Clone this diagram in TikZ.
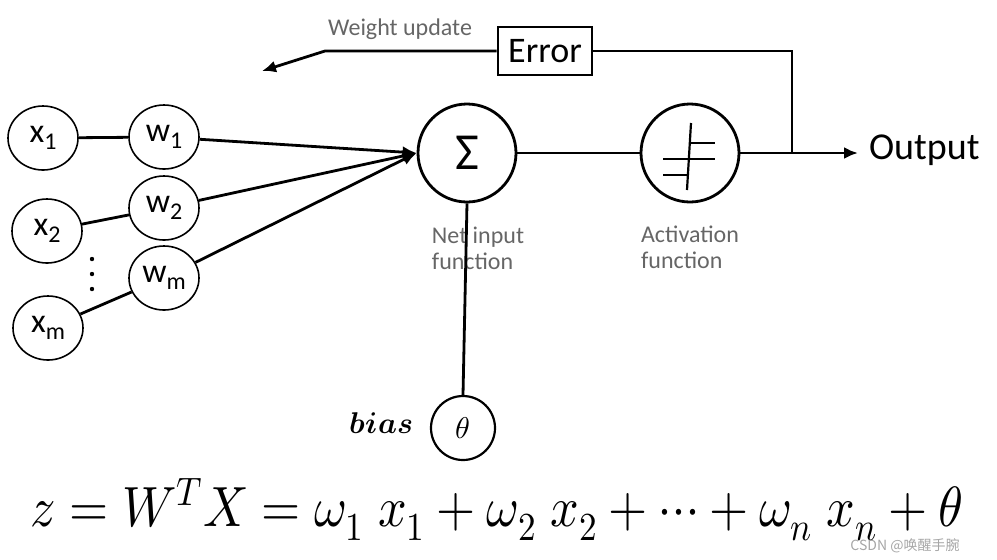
\documentclass[tikz,border=0pt]{standalone}
\usepackage{fontspec}
\usepackage{unicode-math}
\setmainfont{Carlito}
\setmathfont{Latin Modern Math}
\newfontfamily\cjkfont{Noto Sans CJK SC}
\usetikzlibrary{shapes.geometric,arrows.meta}
\newcommand{\lbl}[2]{#1\raisebox{-0.45ex}{\fontsize{12}{12}\selectfont #2}}
\tikzset{
  inp/.style={ellipse,draw,line width=0.8pt,minimum width=35pt,minimum height=32pt,inner sep=0pt,font=\fontsize{17}{17}\selectfont},
  unit/.style={circle,draw,line width=1.4pt,minimum size=49pt,inner sep=0pt},
  errbox/.style={rectangle,draw,line width=1.4pt,minimum width=47pt,minimum height=24pt,font=\fontsize{18}{18}\selectfont},
  note/.style={text=black!60,font=\fontsize{12}{13}\selectfont,align=left},
  link/.style={line width=1.4pt},
}
\begin{document}
\begin{tikzpicture}[x=0.5pt,y=-0.5pt,>={Latex[length=7pt,width=6pt]}]
\useasboundingbox (0,0) rectangle (997,559);
% inputs and weights
\node[inp] (x1) at (43,138){\lbl{x}{1}};
\node[inp] (x2) at (47,231){\lbl{x}{2}};
\node[inp] (xm) at (48,328){\lbl{x}{m}};
\node[inp] (w1) at (164,137){\lbl{w}{1}};
\node[inp] (w2) at (164,208){\lbl{w}{2}};
\node[inp] (wm) at (164,278){\lbl{w}{m}};
\foreach \y in {259,274,289}
  \fill (92,\y) circle (1.1pt);
\draw[link] (x1)--(w1);
\draw[link] (x2)--(w2);
\draw[link] (xm)--(wm);
% net input and activation
\node[unit] (sum) at (467,153){\fontsize{26}{26}\selectfont Σ};
\node[unit] (act) at (690,153){};
\draw[line width=1.1pt] ([shift={(1,-30)}]act.center)--([shift={(-3,37)}]act.center);
\draw[line width=1.1pt] ([shift={(-27,6)}]act.center)--([shift={(25,6)}]act.center);
\draw[line width=1.1pt] ([shift={(0,-10)}]act.center)--([shift={(25,-10)}]act.center);
\draw[line width=1.1pt] ([shift={(-27,22)}]act.center)--([shift={(-2,22)}]act.center);
\foreach \w in {w1,w2,wm}
  \draw[link,->] (\w)--(sum.west);
\draw[link] (sum)--(act);
\coordinate (split) at (792,153);
\coordinate (outend) at (858,153);
\draw[link,->] (act)--(outend);
\node[anchor=west,font=\fontsize{19}{19}\selectfont] (out) at (862,150){Output};
% error feedback
\node[errbox] (err) at (545,51){Error};
\coordinate (corner) at (792,51);
\coordinate (bend) at (325,51);
\coordinate (wtip) at (262,71);
\draw[link] (split)--(corner)--(err.east);
\draw[link,->] (err.west)--(bend)--(wtip);
\node[note] (wulbl) at (400,29){Weight update};
% labels under units
\node[note] (netlbl) at (478,248){Net input\\function};
\node[note] (actlbl) at (690,247){Activation\\function};
% bias
\node[unit,minimum size=32pt,line width=1.1pt] (theta) at (463,428){\fontsize{15}{15}\selectfont$\theta$};
\draw[link] (sum.south)--(theta.north);
\node[anchor=east,font=\fontsize{15}{15}\selectfont] (biaslbl) at (420,423){$\symbfit{bias}$};
% formula
\node[font=\fontsize{27}{27}\selectfont] (eq) at (497,510)
  {\scalebox{0.93}[1.05]{$z=W^{T}X=\omega_1\;x_1+\omega_2\;x_2+\cdots+\omega_n\;x_n+\theta$}};
\node[text=black!35,font=\fontsize{7}{7}\selectfont\cjkfont] (mark) at (905,546){CSDN @唤醒手腕};
\end{tikzpicture}
\end{document}
